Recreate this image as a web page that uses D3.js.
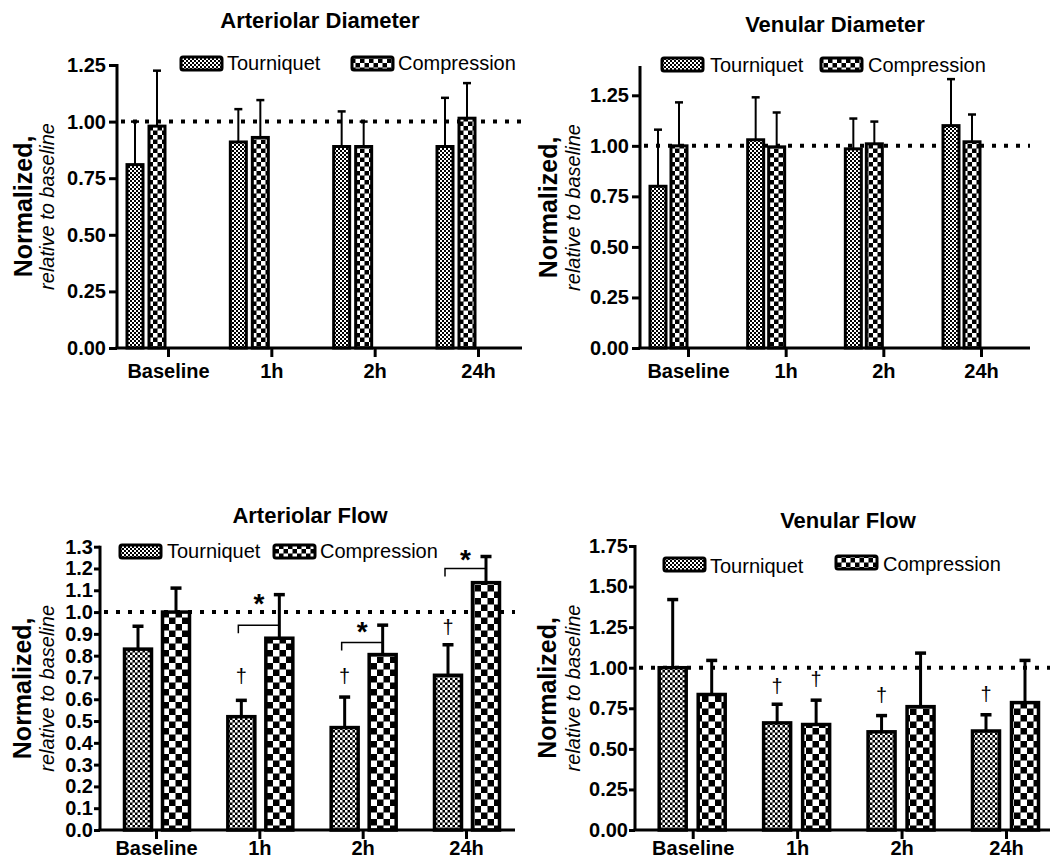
<!DOCTYPE html>
<html>
<head>
<meta charset="utf-8">
<script src="https://cdn.jsdelivr.net/npm/d3@7"></script>
<style>
  body { margin: 0; background: #fff; }
  svg text { font-family: "Liberation Sans", Arial, sans-serif; fill: #000; }
</style>
</head>
<body>
<div id="my_dataviz"></div>
<script>
// categories and series
var categories = ["Baseline", "1h", "2h", "24h"];
var series = ["Tourniquet", "Compression"];

// Arteriolar Diameter (mean and upper error)
var adTourniquet = [0.81, 0.91, 0.89, 0.89];
var adTourniquetErr = [0.19, 0.145, 0.155, 0.215];
var adCompression = [0.98, 0.93, 0.89, 1.015];
var adCompressionErr = [0.245, 0.165, 0.11, 0.155];

// Venular Diameter
var vdTourniquet = [0.80, 1.03, 0.985, 1.10];
var vdTourniquetErr = [0.28, 0.21, 0.15, 0.23];
var vdCompression = [1.00, 0.995, 1.01, 1.02];
var vdCompressionErr = [0.215, 0.17, 0.11, 0.135];

// Arteriolar Flow
var afTourniquet = [0.83, 0.52, 0.47, 0.71];
var afTourniquetErr = [0.105, 0.075, 0.14, 0.14];
var afCompression = [1.00, 0.88, 0.805, 1.135];
var afCompressionErr = [0.11, 0.20, 0.135, 0.12];

// Venular Flow
var vfTourniquet = [1.00, 0.66, 0.605, 0.61];
var vfTourniquetErr = [0.42, 0.115, 0.10, 0.10];
var vfCompression = [0.835, 0.65, 0.76, 0.785];
var vfCompressionErr = [0.21, 0.15, 0.33, 0.26];

// tick labels
var diamTicks = [0, 0.25, 0.5, 0.75, 1.0, 1.25];
var afTicks = [0, 0.1, 0.2, 0.3, 0.4, 0.5, 0.6, 0.7, 0.8, 0.9, 1.0, 1.1, 1.2, 1.3];
var vfTicks = [0, 0.25, 0.5, 0.75, 1.0, 1.25, 1.5, 1.75];

// significance marks
var afBracketCats = ["1h", "2h", "24h"];
var afBracketLevel = [0.94, 0.86, 1.20];
var afStarLevel = [1.07, 0.94, 1.27];
var afDaggerCats = ["1h", "2h", "24h"];
var afDaggerSeries = ["Tourniquet", "Tourniquet", "Tourniquet"];
var afDaggerLevel = [0.70, 0.70, 0.925];
var vfDaggerCats = ["1h", "1h", "2h", "24h"];
var vfDaggerSeries = ["Tourniquet", "Compression", "Tourniquet", "Tourniquet"];
var vfDaggerLevel = [0.88, 0.92, 0.82, 0.83];

var svg = d3.select("#my_dataviz")
  .append("svg")
    .attr("width", 1062)
    .attr("height", 861);

// checker patterns for the two groups
var defs = svg.append("defs");
function checker(id, cell) {
  var p = defs.append("pattern")
    .attr("id", id)
    .attr("patternUnits", "userSpaceOnUse")
    .attr("width", cell * 2)
    .attr("height", cell * 2);
  p.append("rect").attr("width", cell * 2).attr("height", cell * 2).attr("fill", "#000");
  p.append("rect").attr("width", cell).attr("height", cell).attr("fill", "#fff");
  p.append("rect").attr("x", cell).attr("y", cell).attr("width", cell).attr("height", cell).attr("fill", "#fff");
}
checker("fineS", 2);
checker("coarseS", 4.5);
checker("fineL", 2.5);
checker("coarseL", 6.5);

function drawPanel(cfg) {
  var g = svg.append("g");

  var y = d3.scaleLinear().domain([0, cfg.yMax]).range([cfg.bottom, cfg.top]);
  var x = d3.scalePoint().domain(categories).range([cfg.tick0, cfg.tick1]);
  var offset = d3.scaleOrdinal().domain(series).range(cfg.barOffsets);
  var fill = d3.scaleOrdinal().domain(series).range(cfg.patterns);

  // dotted reference line at 1.0
  g.append("line")
    .attr("x1", cfg.left + 4).attr("x2", cfg.right)
    .attr("y1", y(1)).attr("y2", y(1))
    .attr("stroke", "#000")
    .attr("stroke-width", 4)
    .attr("stroke-dasharray", "4,8");

  // bars with error bars
  var rows = [];
  categories.forEach(function(c, i) {
    rows.push({cat: c, s: "Tourniquet", v: cfg.t[i], e: cfg.te[i]});
    rows.push({cat: c, s: "Compression", v: cfg.c[i], e: cfg.ce[i]});
  });
  var bar = g.selectAll(".bar").data(rows).enter().append("g");
  bar.append("line")
    .attr("x1", function(d) { return x(d.cat) + offset(d.s) + cfg.barW / 2; })
    .attr("x2", function(d) { return x(d.cat) + offset(d.s) + cfg.barW / 2; })
    .attr("y1", function(d) { return y(d.v); })
    .attr("y2", function(d) { return y(d.v + d.e); })
    .attr("stroke", "#000").attr("stroke-width", cfg.errW);
  bar.append("line")
    .attr("x1", function(d) { return x(d.cat) + offset(d.s) + cfg.barW / 2 - cfg.capW / 2; })
    .attr("x2", function(d) { return x(d.cat) + offset(d.s) + cfg.barW / 2 + cfg.capW / 2; })
    .attr("y1", function(d) { return y(d.v + d.e); })
    .attr("y2", function(d) { return y(d.v + d.e); })
    .attr("stroke", "#000").attr("stroke-width", cfg.errW + 0.5);
  bar.append("rect")
    .attr("x", function(d) { return x(d.cat) + offset(d.s); })
    .attr("y", function(d) { return y(d.v); })
    .attr("width", cfg.barW)
    .attr("height", function(d) { return y(0) - y(d.v); })
    .attr("fill", function(d) { return "url(#" + fill(d.s) + ")"; })
    .attr("stroke", "#000")
    .attr("stroke-width", cfg.barStroke);

  // y axis
  var ya = g.append("g")
    .attr("transform", "translate(" + cfg.left + ",0)")
    .call(d3.axisLeft(y).tickValues(cfg.yTicks).tickFormat(d3.format(cfg.fmt))
      .tickSize(cfg.yTickLen).tickPadding(cfg.yTickPad).tickSizeOuter(0));
  ya.select(".domain").remove();
  ya.selectAll(".tick line").attr("stroke-width", 3);
  ya.selectAll("text").style("font-size", "20px").style("font-weight", "bold");
  g.append("line")
    .attr("x1", cfg.left).attr("x2", cfg.left)
    .attr("y1", cfg.bottom).attr("y2", y(cfg.yMax) - 1)
    .attr("stroke", "#000").attr("stroke-width", 3);

  // x axis
  var xa = g.append("g")
    .attr("transform", "translate(0," + cfg.bottom + ")")
    .call(d3.axisBottom(x).tickSize(9).tickPadding(cfg.xPad).tickSizeOuter(0));
  xa.select(".domain").remove();
  xa.selectAll(".tick line").attr("stroke-width", 3);
  xa.selectAll("text").style("font-size", "20px").style("font-weight", "bold");
  g.append("line")
    .attr("x1", cfg.left - 1.5).attr("x2", cfg.right)
    .attr("y1", cfg.bottom).attr("y2", cfg.bottom)
    .attr("stroke", "#000").attr("stroke-width", 3);

  // title
  g.append("text")
    .attr("x", cfg.titleX).attr("y", cfg.titleY)
    .attr("text-anchor", "middle")
    .style("font-size", "22px").style("font-weight", "bold")
    .text(cfg.title);

  // y axis label, two lines
  var mid = (cfg.bottom + y(cfg.yMax)) / 2;
  g.append("text")
    .attr("transform", "translate(" + cfg.labX1 + "," + mid + ") rotate(-90)")
    .attr("text-anchor", "middle").attr("dy", "0.35em")
    .style("font-size", "25px").style("font-weight", "bold")
    .text("Normalized,");
  g.append("text")
    .attr("transform", "translate(" + cfg.labX2 + "," + mid + ") rotate(-90)")
    .attr("text-anchor", "middle").attr("dy", "0.35em")
    .style("font-size", "20px").style("font-style", "italic")
    .text("relative to baseline");

  // legend
  series.forEach(function(s, i) {
    var L = cfg.legend[i];
    g.append("rect")
      .attr("x", L.x).attr("y", L.y)
      .attr("width", 41).attr("height", 13)
      .attr("rx", 2)
      .attr("fill", "url(#" + cfg.legendPatterns[i] + ")")
      .attr("stroke", "#000").attr("stroke-width", 3);
    g.append("text")
      .attr("x", L.tx).attr("y", L.ty)
      .style("font-size", "20px")
      .text(s);
  });

  return {x: x, y: y, offset: offset, g: g};
}

var cfgTL = {
  title: "Arteriolar Diameter", titleX: 320, titleY: 28,
  left: 117, right: 522, bottom: 348, top: 65, yMax: 1.25,
  yTicks: diamTicks, fmt: ".2f", yTickLen: 8, yTickPad: 3, xPad: 7,
  tick0: 168, tick1: 478, barW: 16, barOffsets: [-41, -19],
  patterns: ["fineS", "coarseS"], barStroke: 3, errW: 2, capW: 8,
  t: adTourniquet, te: adTourniquetErr, c: adCompression, ce: adCompressionErr,
  labX1: 23, labX2: 47,
  legend: [{x: 181, y: 57, tx: 227, ty: 70}, {x: 352, y: 57, tx: 398, ty: 70}],
  legendPatterns: ["fineS", "coarseS"]
};
var cfgTR = {
  title: "Venular Diameter", titleX: 835, titleY: 32,
  left: 640, right: 1030, bottom: 348, top: 67, yMax: 1.39,
  yTicks: diamTicks, fmt: ".2f", yTickLen: 8, yTickPad: 3, xPad: 7,
  tick0: 688, tick1: 981, barW: 16, barOffsets: [-38, -17],
  patterns: ["fineS", "coarseS"], barStroke: 3, errW: 2, capW: 8,
  t: vdTourniquet, te: vdTourniquetErr, c: vdCompression, ce: vdCompressionErr,
  labX1: 548, labX2: 573,
  legend: [{x: 662, y: 58, tx: 710, ty: 72}, {x: 821, y: 58, tx: 868, ty: 72}],
  legendPatterns: ["fineS", "coarseS"]
};
var cfgBL = {
  title: "Arteriolar Flow", titleX: 310, titleY: 523,
  left: 100, right: 515, bottom: 830, top: 546.7, yMax: 1.3,
  yTicks: afTicks, fmt: ".1f", yTickLen: 6, yTickPad: 1, xPad: 2,
  tick0: 156, tick1: 466, barW: 27, barOffsets: [-31.5, 6.5],
  patterns: ["fineL", "coarseL"], barStroke: 3.5, errW: 3, capW: 11,
  t: afTourniquet, te: afTourniquetErr, c: afCompression, ce: afCompressionErr,
  labX1: 22, labX2: 47,
  legend: [{x: 120, y: 545, tx: 167, ty: 558}, {x: 274, y: 545, tx: 320, ty: 558}],
  legendPatterns: ["fineS", "coarseS"]
};
var cfgBR = {
  title: "Venular Flow", titleX: 848, titleY: 528,
  left: 635, right: 1050, bottom: 830, top: 546, yMax: 1.75,
  yTicks: vfTicks, fmt: ".2f", yTickLen: 6, yTickPad: 1, xPad: 2,
  tick0: 692.7, tick1: 1006, barW: 27, barOffsets: [-33.5, 5.5],
  patterns: ["fineL", "coarseL"], barStroke: 3.5, errW: 3, capW: 11,
  t: vfTourniquet, te: vfTourniquetErr, c: vfCompression, ce: vfCompressionErr,
  labX1: 547, labX2: 573,
  legend: [{x: 664, y: 558, tx: 710, ty: 573}, {x: 836, y: 556, tx: 883, ty: 571}],
  legendPatterns: ["fineS", "coarseS"]
};

drawPanel(cfgTL);
drawPanel(cfgTR);
var bl = drawPanel(cfgBL);
var br = drawPanel(cfgBR);

// brackets and stars between the groups (Arteriolar Flow)
afBracketCats.forEach(function(c, i) {
  var xT = bl.x(c) + bl.offset("Tourniquet") + cfgBL.barW / 2 - 3;
  var xC = bl.x(c) + bl.offset("Compression") + cfgBL.barW / 2;
  var yb = bl.y(afBracketLevel[i]);
  bl.g.append("path")
    .attr("d", "M" + xT + "," + (yb + 8) + "V" + yb + "H" + xC)
    .attr("fill", "none").attr("stroke", "#000").attr("stroke-width", 1.5);
  bl.g.append("text")
    .attr("x", (xT + xC) / 2).attr("y", bl.y(afStarLevel[i]))
    .attr("dy", "0.58em").attr("text-anchor", "middle")
    .style("font-size", "28px").style("font-weight", "bold")
    .text("*");
});

function daggers(p, cfg, cats, ser, lev) {
  cats.forEach(function(c, i) {
    p.g.append("text")
      .attr("x", p.x(c) + p.offset(ser[i]) + cfg.barW / 2)
      .attr("y", p.y(lev[i]))
      .attr("dy", "0.27em").attr("text-anchor", "middle")
      .style("font-size", "20px")
      .text("\u2020");
  });
}
daggers(bl, cfgBL, afDaggerCats, afDaggerSeries, afDaggerLevel);
daggers(br, cfgBR, vfDaggerCats, vfDaggerSeries, vfDaggerLevel);
</script>
</body>
</html>
